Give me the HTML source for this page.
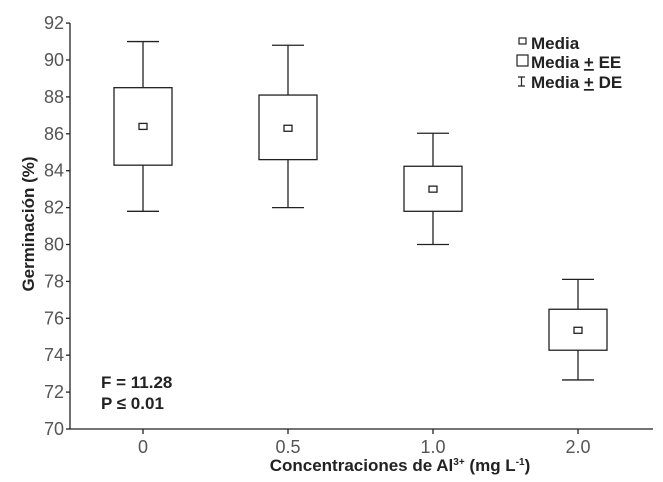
<!DOCTYPE html>
<html><head><meta charset="utf-8"><style>
body{margin:0;background:#fff;}
svg text{font-family:"Liberation Sans",Arial,sans-serif;}
</style></head><body>
<svg id="chart" width="663" height="477" viewBox="0 0 663 477" xmlns="http://www.w3.org/2000/svg">
<g id="axes"></g><g id="marks"></g>
<text x="101" y="388" font-size="17" fill="#222" style="font-weight:600">F = 11.28</text>
<text x="101" y="409" font-size="17" fill="#222" style="font-weight:600">P ≤ 0.01</text>
<text x="34" y="224" font-size="17" fill="#222" text-anchor="middle" transform="rotate(-90 34 224)" style="font-weight:600">Germinación (%)</text>
<text x="400" y="471" font-size="17" fill="#222" text-anchor="middle" style="font-weight:600">Concentraciones de Al<tspan font-size="10" dy="-6">3+</tspan><tspan dy="6"> (mg L</tspan><tspan font-size="10" dy="-6">-1</tspan><tspan dy="6">)</tspan></text>
<g font-size="17" fill="#222" style="font-weight:600">
<rect x="519" y="38" width="7" height="6" fill="none" stroke="#222" stroke-width="1.2"/>
<text x="531" y="49">Media</text>
<rect x="517" y="55" width="11" height="11" fill="none" stroke="#222" stroke-width="1.2"/>
<text x="531" y="68">Media <tspan text-decoration="underline">+</tspan> EE</text>
<path d="M518 77h7M521.5 77v9M518 86h7" stroke="#222" stroke-width="1.2" fill="none"/>
<text x="531" y="88">Media <tspan text-decoration="underline">+</tspan> DE</text>
</g>
</svg>
<script>
const categories=["0","0.5","1.0","2.0"];
const means=[86.4,86.3,83.0,75.35];
const eeLow=[84.3,84.6,81.8,74.27];
const eeHigh=[88.5,88.1,84.24,76.49];
const deLow=[81.8,82.0,80.0,72.66];
const deHigh=[91.0,90.8,86.03,78.11];
const yTicks=[70,72,74,76,78,80,82,84,86,88,90,92];
const NS="http://www.w3.org/2000/svg";
const y0=429,yScale=18.45,x0=143,xStep=145;
function yPos(v){return y0-(v-70)*yScale;}
function xPos(i){return x0+i*xStep;}
function mk(tag,attrs,parent){const e=document.createElementNS(NS,tag);for(const k in attrs)e.setAttribute(k,attrs[k]);parent.appendChild(e);return e;}
const axes=document.getElementById('axes'),marks=document.getElementById('marks');
const st={stroke:"#222","stroke-width":1.3,fill:"none"};
let yl=mk('line',Object.assign({x1:70,y1:yPos(92),x2:70,y2:y0},st),axes);


let xl=mk('line',Object.assign({x1:70,y1:y0,x2:653,y2:y0},st),axes);


yTicks.forEach(v=>{
 const t=mk('line',Object.assign({x1:66,y1:yPos(v),x2:70,y2:yPos(v)},st),axes);
 
 
 const l=mk('text',{x:64,y:yPos(v)+6,"text-anchor":"end","font-size":18,fill:"#555"},axes);
 l.textContent=v;
 
 
});
categories.forEach((c,i)=>{
 const x=xPos(i);
 const t=mk('line',Object.assign({x1:x,y1:y0,x2:x,y2:y0+5},st),axes);
 
 
 const l=mk('text',{x:x,y:y0+24,"text-anchor":"middle","font-size":18,fill:"#555"},axes);
 l.textContent=c;
 
 
 const g=mk('g',{},marks);
 
 
 mk('path',Object.assign({d:`M${x-16} ${yPos(deHigh[i])}H${x+16}M${x} ${yPos(deHigh[i])}V${yPos(eeHigh[i])}M${x} ${yPos(eeLow[i])}V${yPos(deLow[i])}M${x-16} ${yPos(deLow[i])}H${x+16}`},st),g);
 mk('rect',Object.assign({x:x-29,y:yPos(eeHigh[i]),width:58,height:yPos(eeLow[i])-yPos(eeHigh[i])},st),g);
 mk('rect',Object.assign({x:x-4,y:yPos(means[i])-3,width:8,height:6},st),g);
});
</script>
</body></html>
